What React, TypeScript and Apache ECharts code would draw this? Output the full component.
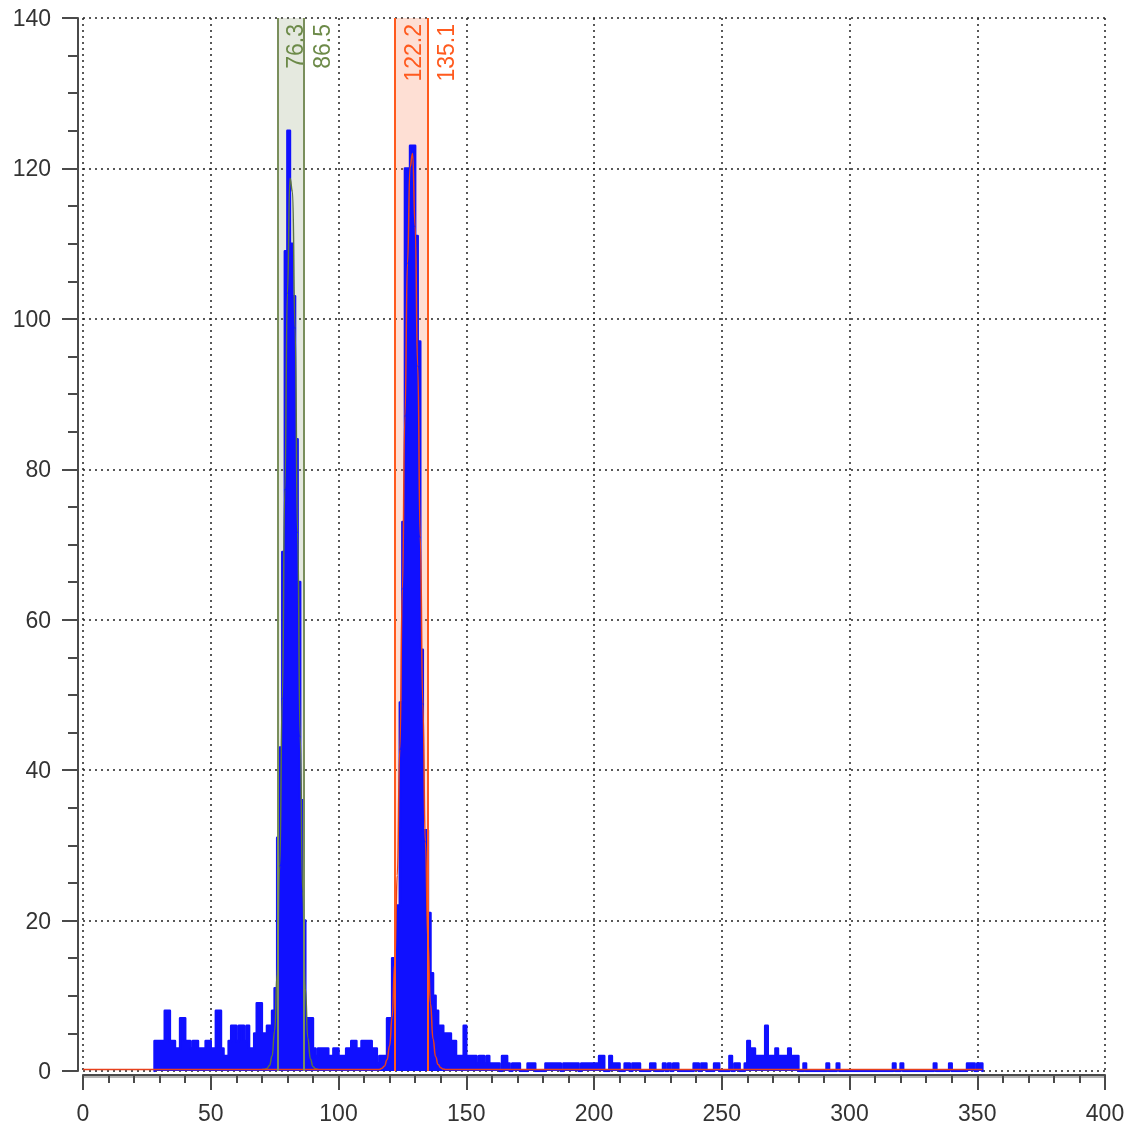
import React, { useEffect, useRef } from "react";
import * as echarts from "echarts";

// Histogram: counts per 1-unit bin, first bin starts at binStart
const binStart = 28;
const countsLeft = [
  4, 4, 4, 4, 8, 8, 4, 4, 3, 3,
  7, 7, 4, 4, 3, 4, 4, 3, 3, 3,
  4, 4, 3, 3, 8, 8, 3, 2, 2, 4,
  6, 6, 4, 6, 6, 4, 6, 3, 3, 5,
  9, 9, 5, 5, 6, 6, 8,
]; // 28..74
const countsPeakA = [11, 31, 43, 69, 109, 125, 110, 103, 84, 65, 36, 20, 7, 7, 7]; // 75..89
const countsMid = [
  3, 2, 3, 3, 3, 3, 2, 2, 3, 3,
  2, 2, 2, 3, 3, 4, 4, 3, 3, 4,
  4, 4, 4, 3, 3, 1, 2, 2, 2, 7,
  7,
]; // 90..120
const countsPeakB = [
  15, 15, 22, 49, 73, 120, 120, 123, 123, 111,
  97, 56, 32, 32, 21, 13, 10, 8, 6, 6,
  5, 5, 5, 4, 4, 2, 2, 2, 6, 2,
]; // 121..150
const countsTail = [
  2, 2, 2, 1, 2, 2, 1, 2, 1, 1,
  1, 1, 0, 2, 2, 1, 0, 1, 1, 1,
  0, 0, 0, 1, 1, 1, 0, 0, 0, 0,
  1, 1, 1, 1, 1, 1, 0, 1, 1, 1,
  1, 1, 1, 0, 1, 1, 1, 1, 1, 1,
  1, 2, 2, 0, 0, 2, 1, 1, 1, 0,
  0, 1, 1, 0, 1, 1, 1, 0, 0, 0,
  0, 1, 1, 0, 0, 0, 1, 0, 1, 0,
  1, 1, 0, 0, 0, 0, 0, 0, 1, 1,
  0, 1, 1, 0, 0, 0, 1, 1, 0, 0,
  0, 0, 2, 0, 1, 1, 0, 0, 1, 4,
  3, 3, 2, 2, 2, 2, 6, 2, 2, 2,
  3, 2, 2, 2, 2, 3, 2, 2, 2, 0,
  0, 1, 0, 0, 0, 0, 0, 0, 0, 0,
  1, 0, 0, 0, 1, 0, 0, 0, 0, 0,
  0, 0, 0, 0, 0, 0, 0, 0, 0, 0,
  0, 0, 0, 0, 0, 0, 1, 0, 0, 1,
  0, 0, 0, 0, 0, 0, 0, 0, 0, 0,
  0, 0, 1, 0, 0, 0, 0, 0, 1, 0,
  0, 0, 0, 0, 0, 1, 1, 1, 0, 1,
  1,
]; // 151..351

// Fitted curves
const greenFitX = [70, 71, 72, 73, 74, 75, 76, 77, 78, 79, 80, 81, 82, 83, 84, 85, 86, 87, 88, 89, 90, 91, 92];
const greenFitY = [0.2, 0.22, 0.33, 0.73, 1.98, 5.34, 12.9, 27.3, 49.5, 77.3, 103.4, 118.7, 116.9, 98.8, 71.6, 44.5, 23.8, 11.0, 4.4, 1.6, 0.61, 0.3, 0.2];
const redFitX = [0, 116, 117, 118, 119, 120, 121, 122, 123, 124, 125, 126, 127, 128, 129, 130, 131, 132, 133, 134, 135, 136, 137, 138, 139, 140, 141, 142, 352];
const redFitY = [0.2, 0.2, 0.36, 0.68, 1.5, 3.37, 7.23, 14.3, 26.0, 42.8, 64.1, 87.1, 107.4, 120.2, 122.0, 112.3, 93.7, 71.0, 48.8, 30.5, 17.3, 8.96, 4.27, 1.91, 0.86, 0.43, 0.26, 0.2, 0.2];

// Marked ranges
const greenRange = [76.3, 86.5];
const orangeRange = [122.2, 135.1];

const FONT = "'Liberation Sans', Arial, sans-serif";
const AXIS = "#4a4a4a";
const GREEN = "#7a8f5c";
const GREEN_TXT = "#6c8a48";
const ORANGE = "#ff5a1e";

export default function App() {
  const ref = useRef<HTMLDivElement>(null);
  useEffect(() => {
    const chart = echarts.init(ref.current!, null, { renderer: "svg" });
    const counts = [...countsLeft, ...countsPeakA, ...countsMid, ...countsPeakB, ...countsTail];
    const hist: number[][] = [[binStart, 0]];
    counts.forEach((v, i) => hist.push([binStart + i, v]));
    hist.push([binStart + counts.length, 0]);
    const greenFit = greenFitX.map((x, i) => [x, greenFitY[i]]);
    const redFit = redFitX.map((x, i) => [x, redFitY[i]]);

    const axisCommon = {
      axisLine: { show: true, onZero: false, lineStyle: { color: AXIS, width: 2 } },
      axisLabel: { fontSize: 23, color: "#333", fontFamily: FONT },
      splitLine: { show: true, lineStyle: { color: "#222", width: 1.5, type: [2, 4] } },
    };

    const markLineSeries = (range: number[], color: string, txt: string) => ({
      type: "line",
      data: [],
      markLine: {
        silent: true,
        symbol: "none",
        animation: false,
        lineStyle: { color, width: 2, type: "solid" },
        label: {
          show: true,
          position: "insideEndBottom",
          formatter: (p: any) => Number(p.value).toFixed(1),
          color: txt,
          fontSize: 23,
          fontFamily: FONT,
          distance: [6, 6],
        },
        data: range.map((v) => ({ xAxis: v })),
      },
    });

    const markAreaSeries = (range: number[], fill: string) => ({
      type: "line",
      data: [],
      markArea: {
        silent: true,
        animation: false,
        itemStyle: { color: fill },
        data: [[{ xAxis: range[0] }, { xAxis: range[1] }]],
      },
    });

    chart.setOption({
      animation: false,
      grid: { left: 83, right: 31, top: 18, bottom: 58 },
      xAxis: [
        {
          type: "value",
          position: "bottom",
          min: 0,
          max: 400,
          interval: 50,
          offset: 4,
          ...axisCommon,
          axisTick: { show: true, length: 15, lineStyle: { color: AXIS, width: 2 } },
          minorTick: { show: true, splitNumber: 5, length: 8, lineStyle: { color: AXIS, width: 2 } },
          axisLabel: { ...axisCommon.axisLabel, margin: 26 },
        },
        {
          type: "value",
          position: "bottom",
          min: 0,
          max: 400,
          offset: 6,
          axisLine: { show: true, onZero: false, lineStyle: { color: "#b5b5b5", width: 2 } },
          axisTick: { show: false },
          axisLabel: { show: false },
          splitLine: { show: false },
        },
      ],
      yAxis: {
        type: "value",
        min: 0,
        max: 140,
        interval: 20,
        offset: 5,
        ...axisCommon,
        axisTick: { show: true, length: 16, lineStyle: { color: AXIS, width: 2 } },
        minorTick: { show: true, splitNumber: 4, length: 10, lineStyle: { color: AXIS, width: 2 } },
        axisLabel: { ...axisCommon.axisLabel, margin: 27 },
      },
      series: [
        markAreaSeries(greenRange, "rgba(125,145,95,0.2)"),
        markAreaSeries(orangeRange, "rgba(250,110,60,0.22)"),
        {
          type: "line",
          data: hist,
          step: "end",
          symbol: "none",
          z: 2,
          lineStyle: { color: "#1010ff", width: 2.5, cap: "round", join: "round" },
          areaStyle: { color: "#1010ff", opacity: 1 },
        },
        {
          type: "line",
          data: greenFit,
          symbol: "none",
          smooth: true,
          smoothMonotone: "x",
          z: 3,
          lineStyle: { color: "#5b7345", width: 1.5 },
        },
        {
          type: "line",
          data: redFit,
          symbol: "none",
          smooth: true,
          smoothMonotone: "x",
          z: 3,
          lineStyle: { color: "#e8401c", width: 1.5 },
        },
        markLineSeries(greenRange, GREEN, GREEN_TXT),
        markLineSeries(orangeRange, ORANGE, ORANGE),
      ],
    });
    return () => chart.dispose();
  }, []);
  return <div ref={ref} style={{ position: "fixed", left: 0, top: 0, width: 1136, height: 1129 }} />;
}
